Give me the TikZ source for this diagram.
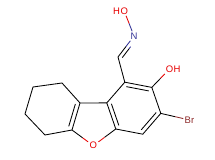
\documentclass[tikz,border=0pt]{standalone}
\usepackage{fontspec}
\setmainfont{Liberation Sans}
\usetikzlibrary{calc}
\definecolor{ored}{RGB}{230,0,0}
\definecolor{nblue}{RGB}{50,50,150}
\definecolor{brcol}{RGB}{140,40,40}
\begin{document}
\begin{tikzpicture}[x=1pt,y=1pt,
  bond/.style={line width=0.85pt},
  atom/.style={inner sep=1.3pt, font=\fontsize{9.5}{11}\selectfont},
  hlab/.style={inner sep=0pt, font=\fontsize{9.5}{11}\selectfont}]
\useasboundingbox (0,0) rectangle (215,160);
% carbon positions
\coordinate (c1) at (124.8,77.8);
\coordinate (c2) at (151.8,72.6);
\coordinate (c3) at (160.8,46.6);
\coordinate (c4) at (142.8,25.8);
\coordinate (c4a) at (115.8,31.0);
\coordinate (c9b) at (106.8,57.1);
\coordinate (bz) at (133.8,51.8);
\coordinate (c9a) at (80,57);
\coordinate (c9) at (62,77);
\coordinate (c8) at (33,73);
\coordinate (c7) at (25,46);
\coordinate (c6) at (45,25);
\coordinate (c5a) at (72,30);
\coordinate (cy) at (52.8,51.3);
\coordinate (c10) at (118,103);
% heteroatoms
\node[atom, text=nblue] (n) at (134,124) {N};
\node[atom, text=ored] (o3) at (124.2,149) {O};
\node[hlab, text=ored, anchor=base east] (h3) at ($(o3.base west)+(1.3,0)$) {H};
\node[atom, text=ored] (o2) at (169.5,91) {O};
\node[hlab, text=ored, anchor=base west] (h2) at ($(o2.base east)-(1.3,0)$) {H};
\node[atom, text=brcol] (br) at (189.5,40) {Br};
\node[atom, text=ored] (of) at (93.3,14.3) {O};
% benzene ring
\draw[bond] (c1)--(c2)--(c3)--(c4)--(c4a)--(c9b)--cycle;
\draw[bond] ($(bz)!0.83!(c1)$)--($(bz)!0.83!(c2)$);
\draw[bond] ($(bz)!0.83!(c3)$)--($(bz)!0.83!(c4)$);
\draw[bond] ($(bz)!0.83!(c4a)$)--($(bz)!0.83!(c9b)$);
% furan ring
\draw[bond] (c9b)--(c9a);
\draw[bond] (c9a)--(c5a);
\draw[bond] ($(cy)!0.83!(c9a)$)--($(cy)!0.83!(c5a)$);
\draw[bond] (c4a)--($(c4a)!0.5!(of)$);
\draw[bond, ored] ($(c4a)!0.5!(of)$)--(of);
\draw[bond] (c5a)--($(c5a)!0.5!(of)$);
\draw[bond, ored] ($(c5a)!0.5!(of)$)--(of);
% cyclohexene ring
\draw[bond] (c9a)--(c9)--(c8)--(c7)--(c6)--(c5a);
% substituents
\draw[bond] (c1)--(c10);
\draw[bond] (c10)--($(c10)!0.5!(n)$);
\draw[bond, nblue] ($(c10)!0.5!(n)$)--(n);
\draw[bond] ($(c10)!0.08!(n)!3.8pt!-90:(n)$)--($(c10)!0.5!(n)!3.8pt!-90:(n)$);
\draw[bond, nblue] ($(c10)!0.5!(n)!3.8pt!-90:(n)$)--($(c10)!0.6!(n)!3.8pt!-90:(n)$);
\draw[bond, nblue] (n)--($(n)!0.5!(o3)$);
\draw[bond, ored] ($(n)!0.5!(o3)$)--(o3);
\draw[bond] (c2)--($(c2)!0.5!(o2)$);
\draw[bond, ored] ($(c2)!0.5!(o2)$)--(o2);
\draw[bond] (c3)--($(c3)!0.5!(br)$);
\draw[bond, brcol] ($(c3)!0.5!(br)$)--(br);
\end{tikzpicture}
\end{document}
